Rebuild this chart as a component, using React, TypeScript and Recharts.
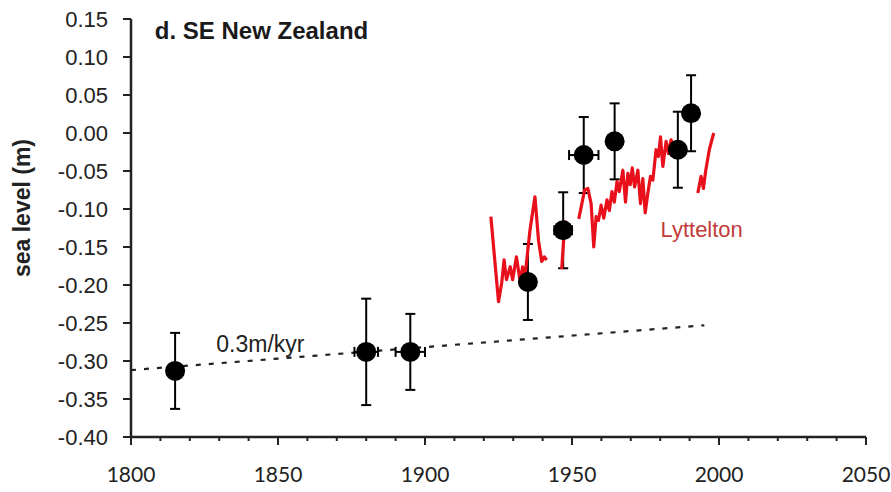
import React from 'react';
import { ComposedChart, Line, Scatter, ErrorBar, XAxis, YAxis, ReferenceDot } from 'recharts';

// survey points (year, sea level m) with error
const pointYear = [1815, 1880, 1895, 1935, 1947, 1954, 1964.5, 1986, 1990.5];
const pointLevel = [-0.313, -0.288, -0.288, -0.196, -0.128, -0.029, -0.011, -0.022, 0.026];
const pointLevelErr = [0.05, 0.07, 0.05, 0.05, 0.05, 0.05, 0.05, 0.05, 0.05];
const pointYearErr = [0, 4, 5, 0, 3, 5, 0, 0, 0];

// Lyttelton tide gauge, null = gap
const lytteltonYear = [
  1922.4, 1925.0, 1926.1, 1926.9, 1927.7, 1929.0, 1929.8, 1931.1, 1932.4, 1933.2, 1934.0, 1935.7, 1937.4, 1938.6, 1939.7, 1940.6, 1941.4,
  1944,
  1946.5, 1947.6,
  1950,
  1952.3, 1954.3, 1955.4, 1956.5, 1957.4, 1958.2, 1959.0, 1959.9, 1960.8, 1961.9, 1962.7, 1963.6, 1964.4, 1965.3, 1966.1, 1967.3,
  1968.2, 1969.0, 1969.8, 1970.5, 1971.3, 1972.4, 1973.3, 1974.1, 1974.9, 1975.8, 1976.7, 1977.5, 1978.6, 1979.4, 1980.1, 1980.9,
  1982.0, 1982.8, 1983.7, 1984.6, 1985.6, 1986.5,
  1990,
  1992.8, 1993.9, 1994.7, 1995.5, 1996.7, 1998.2,
];
const lytteltonLevel = [
  -0.110, -0.222, -0.197, -0.167, -0.193, -0.176, -0.193, -0.163, -0.196, -0.176, -0.189, -0.128, -0.084, -0.141, -0.169, -0.163, -0.167,
  null,
  -0.179, -0.115,
  null,
  -0.113, -0.075, -0.073, -0.093, -0.150, -0.110, -0.115, -0.095, -0.112, -0.088, -0.102, -0.077, -0.091, -0.064, -0.077, -0.049,
  -0.091, -0.053, -0.068, -0.046, -0.071, -0.049, -0.093, -0.060, -0.105, -0.079, -0.057, -0.062, -0.022, -0.031, -0.005, -0.044,
  -0.011, -0.027, -0.009, -0.018, -0.025, -0.010,
  null,
  -0.079, -0.057, -0.073, -0.049, -0.022, 0.000,
];

// 0.3 m/kyr trend
const trendYear = [1800, 1995];
const trendLevel = [-0.312, -0.253];

const xTicks = [1800, 1810, 1820, 1830, 1840, 1850, 1860, 1870, 1880, 1890, 1900, 1910, 1920, 1930, 1940, 1950,
  1960, 1970, 1980, 1990, 2000, 2010, 2020, 2030, 2040, 2050];
const yTicks = [-0.4, -0.35, -0.3, -0.25, -0.2, -0.15, -0.1, -0.05, 0, 0.05, 0.1, 0.15];

const points = pointYear.map((year, i) => ({
  year,
  value: pointLevel[i],
  yErr: pointLevelErr[i],
  xErr: pointYearErr[i],
}));
const lyttelton = lytteltonYear.map((year, i) => ({ year, value: lytteltonLevel[i] }));
const trend = trendYear.map((year, i) => ({ year, value: trendLevel[i] }));

const AXIS = '#222';
const ARIAL = '"Liberation Sans", Arial, sans-serif';

const XTick = (props: any) => {
  const { x, y, payload } = props;
  const major = payload.value % 50 === 0;
  return (
    <g>
      <line x1={x} x2={x} y1={y} y2={y + (major ? 8 : 4)} stroke={AXIS} strokeWidth={2} />
      {major && (
        <text x={x} y={y + 45} textAnchor="middle" fontSize={21} fontFamily='Lato, "Open Sans", sans-serif' fill={AXIS}>
          {payload.value}
        </text>
      )}
    </g>
  );
};

// text anchored at the reference point (start, baseline)
const textAt = (value: string, size: number, color: string, bold = false) => (props: any) => {
  const { viewBox } = props;
  return (
    <text x={viewBox.x} y={viewBox.y} fontSize={size} fontFamily={ARIAL} fontWeight={bold ? 'bold' : 'normal'} fill={color}>
      {value}
    </text>
  );
};

const YLabel = () => (
  <text x={30} y={208} transform="rotate(-90 30 208)" textAnchor="middle" fontSize={23} fontWeight="bold" fontFamily={ARIAL} fill={AXIS}>
    sea level (m)
  </text>
);

const Dot = (props: any) => <circle cx={props.cx} cy={props.cy} r={10} fill="#000" />;

export default function App() {
  return (
    <div style={{ position: 'absolute', left: 0, top: 0, background: '#fff' }}>
      <ComposedChart width={891} height={492} margin={{ top: 19, right: 25, bottom: 0, left: 0 }}>
        <XAxis
          type="number"
          dataKey="year"
          domain={[1800, 2050]}
          ticks={xTicks}
          interval={0}
          height={55}
          tickSize={0}
          tickMargin={0}
          tickLine={false}
          tick={<XTick />}
          axisLine={{ stroke: AXIS, strokeWidth: 2.5 }}
          allowDataOverflow
        />
        <YAxis
          type="number"
          domain={[-0.4, 0.15]}
          ticks={yTicks}
          interval={0}
          width={131}
          tickSize={8}
          tickMargin={15}
          tickFormatter={(v: number) => v.toFixed(2)}
          tick={{ fontSize: 22, fontFamily: ARIAL, fill: AXIS }}
          tickLine={{ stroke: AXIS, strokeWidth: 2 }}
          axisLine={{ stroke: AXIS, strokeWidth: 2.5 }}
          label={<YLabel />}
          allowDataOverflow
        />
        <Line
          data={trend}
          dataKey="value"
          stroke={AXIS}
          strokeWidth={2.2}
          strokeDasharray="5 8"
          dot={false}
          isAnimationActive={false}
        />
        <Scatter data={points} dataKey="value" shape={<Dot />} isAnimationActive={false}>
          <ErrorBar dataKey="yErr" direction="y" width={5} stroke="#000" strokeWidth={2} />
          <ErrorBar dataKey="xErr" direction="x" width={5} stroke="#000" strokeWidth={2} />
        </Scatter>
        <Line
          data={lyttelton}
          dataKey="value"
          stroke="#e8101a"
          strokeWidth={3.2}
          strokeLinejoin="round"
          dot={false}
          connectNulls={false}
          isAnimationActive={false}
        />
        <ReferenceDot x={1808.1} y={0.1237} r={0} stroke="none" label={textAt('d. SE New Zealand', 24, '#1a1a1a', true)} />
        <ReferenceDot x={1829} y={-0.2878} r={0} stroke="none" label={textAt('0.3m/kyr', 23, '#222')} />
        <ReferenceDot x={1980.1} y={-0.1364} r={0} stroke="none" label={textAt('Lyttelton', 22, '#c33a3a')} />
      </ComposedChart>
    </div>
  );
}
